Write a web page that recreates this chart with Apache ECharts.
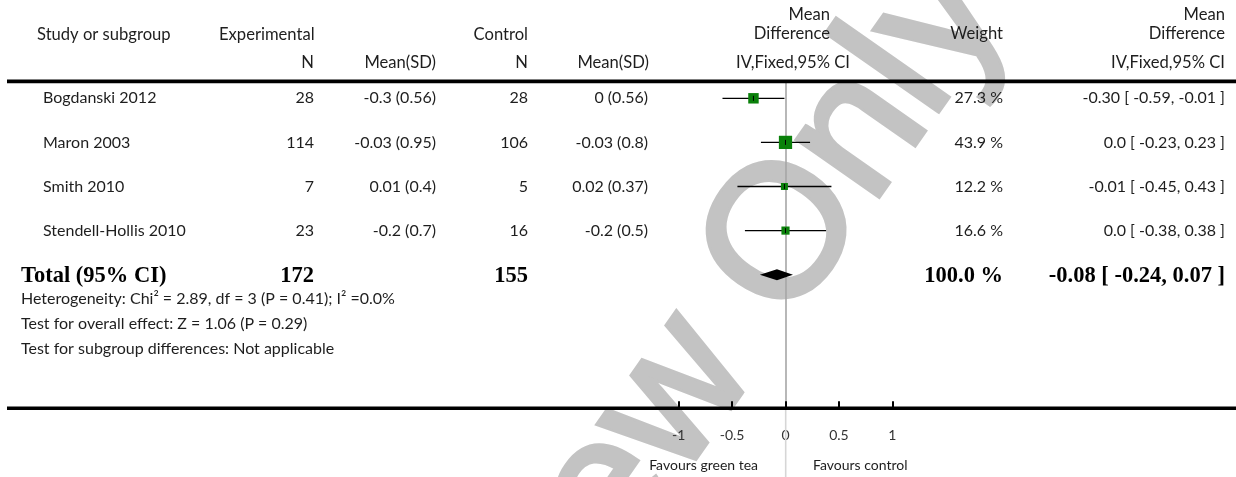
<!DOCTYPE html>
<html>
<head>
<meta charset="utf-8">
<script src="https://cdn.jsdelivr.net/npm/echarts@6/dist/echarts.min.js"></script>
<style>
  html, body { margin: 0; padding: 0; background: #fff; }
  #chart { width: 1236px; height: 477px; }
</style>
</head>
<body>
<div id="chart"></div>
<script>
// study rows
const studies = ['Bogdanski 2012', 'Maron 2003', 'Smith 2010', 'Stendell-Hollis 2010'];
const expN = [28, 114, 7, 23];
const expMeanSD = ['-0.3 (0.56)', '-0.03 (0.95)', '0.01 (0.4)', '-0.2 (0.7)'];
const ctrlN = [28, 106, 5, 16];
const ctrlMeanSD = ['0 (0.56)', '-0.03 (0.8)', '0.02 (0.37)', '-0.2 (0.5)'];
const md = [-0.30, 0.0, -0.01, 0.0];
const ciLow = [-0.59, -0.23, -0.45, -0.38];
const ciHigh = [-0.01, 0.23, 0.43, 0.38];
const weights = [27.3, 43.9, 12.2, 16.6];
const weightText = ['27.3 %', '43.9 %', '12.2 %', '16.6 %'];
const mdText = ['-0.30 [ -0.59, -0.01 ]', '0.0 [ -0.23, 0.23 ]', '-0.01 [ -0.45, 0.43 ]', '0.0 [ -0.38, 0.38 ]'];

// pooled
const totalN = [172, 155];
const totalMD = [-0.08, -0.24, 0.07];
const totalWeightText = '100.0 %';
const totalMDText = '-0.08 [ -0.24, 0.07 ]';

const footnotes = [
  'Heterogeneity: Chi\u00b2 = 2.89, df = 3 (P = 0.41); I\u00b2 =0.0%',
  'Test for overall effect: Z = 1.06 (P = 0.29)',
  'Test for subgroup differences: Not applicable'
];

const SANS = 'Lato, "Open Sans", sans-serif';
const SERIF = '"Liberation Serif", "DejaVu Serif", serif';
const INK = '#1e1e1e';

// column x positions (px)
const COL = { study: 43, expN: 314, expMS: 436, ctrlN: 528, ctrlMS: 648, weight: 1003, md: 1225 };

function txt(x, y, text, align, opts) {
  return {
    type: 'text', x: x, y: y, z: 5,
    style: Object.assign({
      text: text, fill: INK, fontFamily: SANS, fontSize: 16,
      align: align || 'left', verticalAlign: 'middle'
    }, opts || {})
  };
}
const H = { fontSize: 16.6 };

const chart = echarts.init(document.getElementById('chart'));

const WM = 188;
const wmStyle = { fill: '#c3c3c3', stroke: '#c3c3c3', lineWidth: 5, lineJoin: 'round',
  fontFamily: '"Liberation Sans", Arial, sans-serif', fontSize: WM, verticalAlign: 'middle' };

const option = {
  animation: false,
  grid: { left: 678.7, right: 343.7, top: 83, bottom: 68.7 },
  xAxis: {
    type: 'value', min: -1, max: 1, interval: 0.5,
    axisLine: { show: false, onZero: false },
    axisTick: { show: true, inside: true, length: 7, lineStyle: { color: '#000', width: 2 } },
    axisLabel: { margin: 20, color: '#333', fontFamily: SANS, fontSize: 14 },
    splitLine: { show: false }
  },
  yAxis: {
    type: 'value', inverse: true, min: -0.347, max: 7.03,
    axisLine: { show: true, onZero: true, lineStyle: { color: '#a6a6a6', width: 1.6 } },
    axisTick: { show: false }, axisLabel: { show: false }, splitLine: { show: false }
  },
  graphic: [
    // watermark
    { type: 'group', x: 787, y: 237, rotation: 55 * Math.PI / 180, z: -1, silent: true,
      children: [
        { type: 'text', x: -0.389 * WM, y: 0, style: Object.assign({ text: 'Only', align: 'left' }, wmStyle) },
        { type: 'text', x: -0.667 * WM, y: 0, style: Object.assign({ text: 'Review', align: 'right' }, wmStyle) }
      ] },
    // rules
    { type: 'line', z: 5, shape: { x1: 7, y1: 81.3, x2: 1236, y2: 81.3 }, style: { stroke: '#000', lineWidth: 3.8 } },
    { type: 'line', z: 5, shape: { x1: 7, y1: 408.3, x2: 1236, y2: 408.3 }, style: { stroke: '#000', lineWidth: 3.5 } },
    { type: 'line', z: 4, shape: { x1: 785.7, y1: 410, x2: 785.7, y2: 477 }, style: { stroke: '#d6d6d6', lineWidth: 1.6 } },
    // header
    txt(37, 35, 'Study or subgroup', 'left', H),
    txt(219, 35, 'Experimental', 'left', H),
    txt(COL.expN, 63, 'N', 'right', H),
    txt(COL.expMS, 63, 'Mean(SD)', 'right', H),
    txt(COL.ctrlN, 35, 'Control', 'right', H),
    txt(COL.ctrlN, 63, 'N', 'right', H),
    txt(649, 63, 'Mean(SD)', 'right', H),
    txt(830, 15, 'Mean', 'right', H),
    txt(830, 34, 'Difference', 'right', H),
    txt(850, 63, 'IV,Fixed,95% CI', 'right', H),
    txt(COL.weight, 34, 'Weight', 'right', H),
    txt(COL.md, 15, 'Mean', 'right', H),
    txt(COL.md, 34, 'Difference', 'right', H),
    txt(COL.md, 63, 'IV,Fixed,95% CI', 'right', H),
    // footnotes
    txt(21, 299, footnotes[0], 'left'),
    txt(21, 324, footnotes[1], 'left'),
    txt(21, 349, footnotes[2], 'left'),
    // favours
    txt(758, 465, 'Favours green tea', 'right', { fontSize: 14 }),
    txt(813, 465, 'Favours control', 'left', { fontSize: 14 })
  ],
  series: [
    {
      // table text
      type: 'custom', z: 5,
      data: studies.map((s, i) => [0, i]).concat([[0, 4]]),
      encode: { x: 0, y: 1 },
      renderItem: function (params, api) {
        const i = api.value(1);
        const y = api.coord([0, i])[1];
        if (i === 4) {
          const b = { fontFamily: SERIF, fontWeight: 'bold', fontSize: 22.5, fill: '#000' };
          return { type: 'group', children: [
            txt(21, y + 1, 'Total (95% CI)', 'left', b),
            txt(COL.expN, y + 1, String(totalN[0]), 'right', b),
            txt(COL.ctrlN, y + 1, String(totalN[1]), 'right', b),
            txt(COL.weight, y + 1, totalWeightText, 'right', b),
            txt(COL.md, y + 1, totalMDText, 'right', b)
          ] };
        }
        return { type: 'group', children: [
          txt(COL.study, y, studies[i], 'left'),
          txt(COL.expN, y, String(expN[i]), 'right'),
          txt(COL.expMS, y, expMeanSD[i], 'right'),
          txt(COL.ctrlN, y, String(ctrlN[i]), 'right'),
          txt(COL.ctrlMS, y, ctrlMeanSD[i], 'right'),
          txt(COL.weight, y, weightText[i], 'right'),
          txt(COL.md, y, mdText[i], 'right')
        ] };
      }
    },
    {
      // study estimates
      type: 'custom', z: 6,
      data: studies.map((s, i) => [md[i], i, ciLow[i], ciHigh[i], weights[i]]),
      encode: { x: [0, 2, 3], y: 1 },
      renderItem: function (params, api) {
        const row = api.value(1);
        const p = api.coord([api.value(0), row]);
        const a = api.coord([api.value(2), row]);
        const b = api.coord([api.value(3), row]);
        const s = 2 * Math.sqrt(api.value(4));
        return { type: 'group', children: [
          { type: 'line', shape: { x1: a[0], y1: a[1], x2: b[0], y2: b[1] }, style: { stroke: '#000', lineWidth: 1.3 } },
          { type: 'rect', shape: { x: p[0] - s / 2, y: p[1] - s / 2, width: s, height: s }, style: { fill: '#0a800a' } },
          { type: 'line', shape: { x1: p[0], y1: p[1] - 2.5, x2: p[0], y2: p[1] + 2.5 }, style: { stroke: '#000', lineWidth: 1 } }
        ] };
      }
    },
    {
      // pooled diamond
      type: 'custom', z: 6,
      data: [[totalMD[0], 4, totalMD[1], totalMD[2]]],
      encode: { x: [0, 2, 3], y: 1 },
      renderItem: function (params, api) {
        const row = api.value(1);
        const p = api.coord([api.value(0), row]);
        const a = api.coord([api.value(2), row]);
        const b = api.coord([api.value(3), row]);
        return { type: 'polygon', shape: { points: [[a[0], p[1]], [p[0], p[1] - 5.5], [b[0], p[1]], [p[0], p[1] + 5.5]] },
          style: { fill: '#000' } };
      }
    }
  ]
};
chart.setOption(option);
</script>
</body>
</html>
